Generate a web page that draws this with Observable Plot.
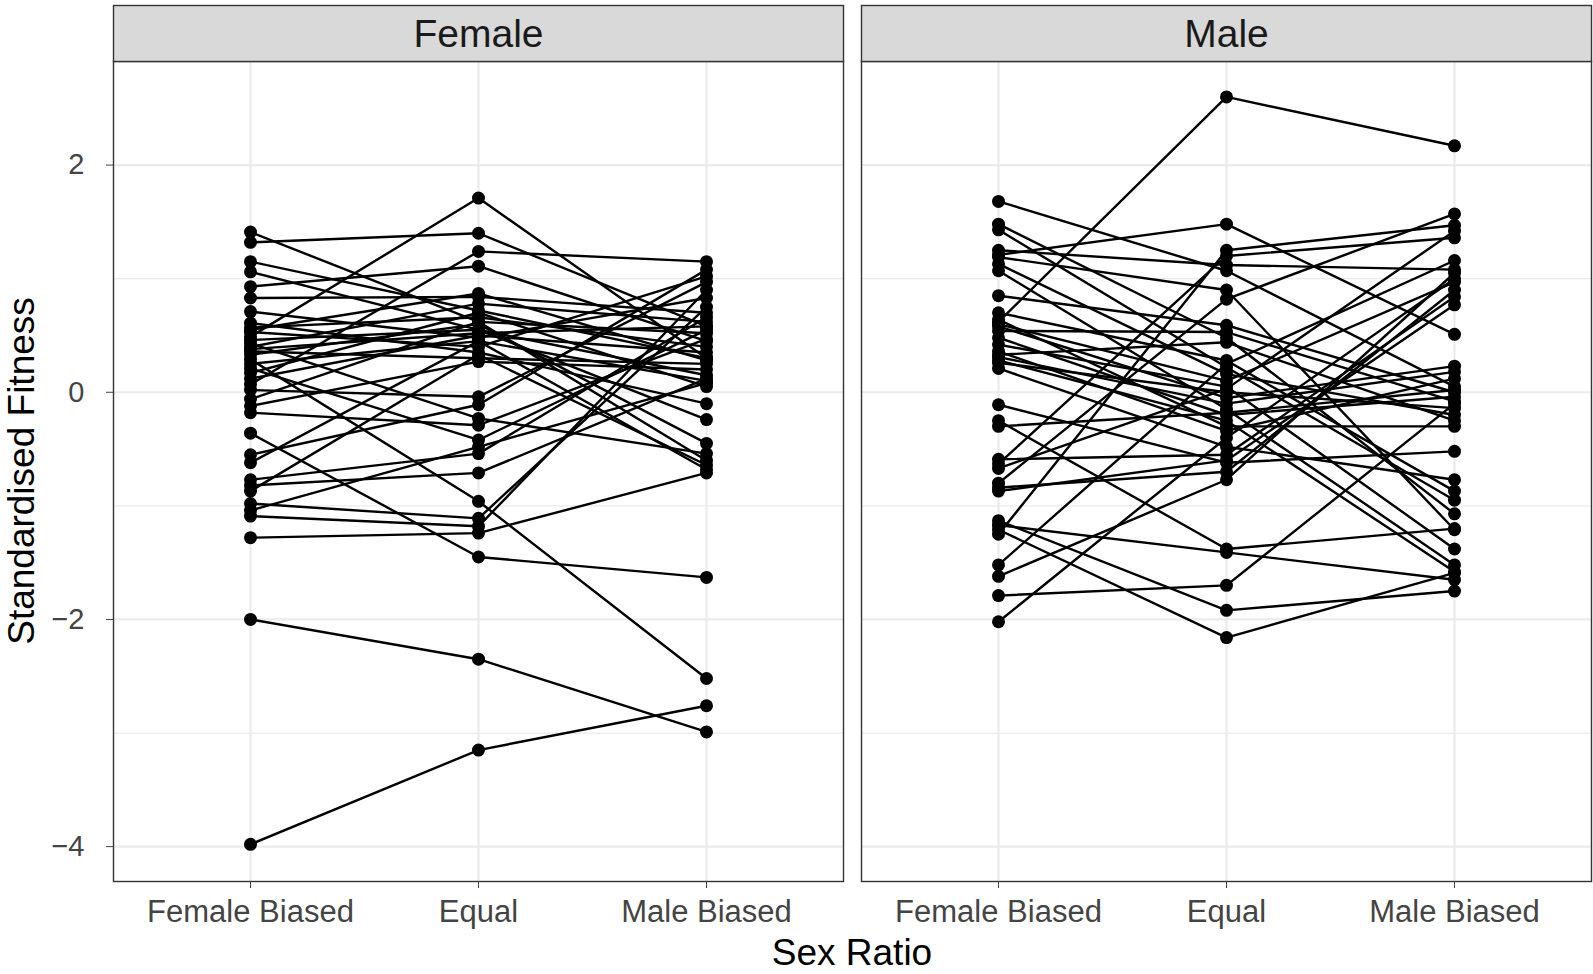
<!DOCTYPE html>
<html><head><meta charset="utf-8">
<script src="https://cdn.jsdelivr.net/npm/d3@7"></script>
<script src="https://cdn.jsdelivr.net/npm/@observablehq/plot@0.6"></script>
<style>
body{margin:0;background:#fff;}
svg{display:block;font-family:Arial,"Liberation Sans",sans-serif;}
</style>
</head><body><div id="chart"></div>
<script>
const sexes = ["Female", "Male"];
const ratios = ["Female Biased", "Equal", "Male Biased"];
const yTicks = [-4, -2, 0, 2];
const yMinor = [-3, -1, 1];
const xTitle = "Sex Ratio";
const yTitle = "Standardised Fitness";

// Female panel: one entry per line (Female Biased, Equal, Male Biased)
const femaleFB = [1.41, 1.32, 1.15, 1.06, 0.93, 0.83, 0.71, 0.61, 0.57, 0.53, 0.49, 0.46, 0.43, 0.40, 0.36, 0.33, 0.29, 0.25, 0.21, 0.17, 0.12, 0.07, 0.02, -0.06, -0.12, -0.18, -0.36, -0.55, -0.62, -0.77, -0.82, -0.87, -0.98, -1.04, -1.09, -1.28, -2.00, -3.98, 0.55, 0.38];
const femaleEQ = [0.62, 1.40, 0.72, 0.55, 1.11, 0.84, 0.48, 0.35, 0.66, 0.40, 1.71, 0.55, -0.23, 0.78, 0.30, 0.60, -0.96, 0.45, -0.42, 0.70, 0.50, 1.24, -0.04, 0.62, 0.27, -0.29, -1.45, -0.11, 0.45, -0.54, -0.71, 0.33, -1.11, -0.48, -1.18, -1.24, -2.35, -3.15, 0.87, 0.52];
const femaleMB = [0.52, 0.58, 0.30, -0.24, 0.45, 0.70, 0.83, -0.10, 0.40, 1.02, 0.30, 0.15, -0.54, 0.62, 0.25, -0.45, -2.52, 0.10, 0.55, 0.05, 0.35, 1.15, 0.97, -0.60, 0.20, 0.47, -1.63, 1.08, -0.68, 0.66, 0.12, -0.64, 0.75, 0.08, 0.90, -0.71, -2.99, -2.76, 0.28, 0.58];

// Male panel
const maleFB = [0.62, 1.68, 1.48, 1.43, 1.25, 1.21, 1.19, 1.13, 1.07, 0.85, 0.70, 0.64, 0.60, 0.58, 0.54, 0.48, 0.42, 0.36, 0.33, 0.31, 0.28, 0.26, 0.21, -0.11, -0.25, -0.30, -0.59, -0.63, -0.67, -0.80, -0.84, -0.87, -1.13, -1.17, -1.21, -1.25, -1.52, -1.62, -1.79, -2.02];
const maleEQ = [2.60, 1.07, 0.48, 0.22, 1.12, 1.48, 0.90, 0.16, -0.15, 0.59, 0.28, -0.30, 0.10, -0.05, 0.53, -0.20, 0.05, -0.34, 0.44, -0.10, -0.25, 0.00, -0.48, -0.62, -1.38, -0.18, -0.55, 1.20, 0.03, 0.82, -0.70, -0.60, -1.92, -1.41, -2.16, 1.25, 0.25, -0.77, -1.70, -0.40];
const maleMB = [2.17, 0.05, -1.07, -0.95, 1.08, 0.51, -1.21, -0.20, -1.52, 0.00, -0.87, -0.30, 0.97, 0.23, -0.08, -0.04, -1.38, 0.12, -0.25, 0.18, -1.58, -0.14, -0.77, -0.52, -1.20, 0.02, 0.84, 1.36, 1.42, 1.57, 0.90, 0.77, -1.75, -1.65, -1.59, 1.47, 1.16, 1.05, -0.10, 1.00];

const rows = [];
function addSeries(sex, fb, eq, mb) {
  fb.forEach((_, i) => {
    const id = sex + "-" + i;
    [fb[i], eq[i], mb[i]].forEach((v, j) => rows.push({sex, id, ratio: ratios[j], value: v}));
  });
}
addSeries("Female", femaleFB, femaleEQ, femaleMB);
addSeries("Male", maleFB, maleEQ, maleMB);

const fmt = d => (d < 0 ? "\u2212" + Math.abs(d) : String(d));

const W = 1593, H = 974;
const plot = Plot.plot({
  width: W, height: H,
  marginTop: 61, marginBottom: 93, marginLeft: 112, marginRight: 1,
  style: {fontFamily: 'Arial, "Liberation Sans", sans-serif', background: "#fff", overflow: "visible"},
  fx: {domain: sexes, paddingInner: 0.024, paddingOuter: 0, axis: null, label: null},
  x: {type: "point", domain: ratios, padding: 0.6, axis: null, label: null},
  y: {domain: [-4.307, 2.912], axis: null, label: null},
  marks: [
    Plot.gridY(yMinor, {stroke: "#ebebeb", strokeOpacity: 1, strokeWidth: 1.2}),
    Plot.gridY(yTicks, {stroke: "#ebebeb", strokeOpacity: 1, strokeWidth: 2.2}),
    Plot.gridX(ratios, {stroke: "#ebebeb", strokeOpacity: 1, strokeWidth: 2.2}),
    Plot.line(rows, {fx: "sex", x: "ratio", y: "value", z: "id", stroke: "black", strokeWidth: 2.4}),
    Plot.dot(rows, {fx: "sex", x: "ratio", y: "value", r: 6.5, fill: "black", stroke: "none"}),
    Plot.frame({stroke: "#333", strokeWidth: 1.4}),
    Plot.axisY(yTicks, {tickSize: 7, tickPadding: 22, fontSize: 29, label: null, color: "#444", tickFormat: fmt}),
    Plot.axisX({tickSize: 7, tickPadding: 11, fontSize: 31, label: null, color: "#444"})
  ]
});
document.getElementById("chart").append(plot);

// Facet strips (grey header boxes with the panel names), placed in root SVG coordinates
const svg = d3.select(plot);
const svgBox = plot.getBoundingClientRect();
const frames = Array.from(plot.querySelectorAll('g[aria-label="frame"] rect'))
  .map(r => r.getBoundingClientRect())
  .sort((a, b) => a.left - b.left);
frames.forEach((b, i) => {
  const x = b.left - svgBox.left, y = b.top - svgBox.top, w = b.width;
  svg.append("rect")
    .attr("x", x).attr("y", y - 56).attr("width", w).attr("height", 56)
    .attr("fill", "#d9d9d9").attr("stroke", "#333").attr("stroke-width", 1.4);
  svg.append("text")
    .attr("x", x + w / 2).attr("y", y - 28)
    .attr("text-anchor", "middle").attr("dominant-baseline", "central")
    .attr("font-size", 39).attr("fill", "#1a1a1a")
    .text(sexes[i]);
});

// Axis titles
svg.append("text")
  .attr("x", (112 + W - 1) / 2).attr("y", 965)
  .attr("text-anchor", "middle").attr("font-size", 37).attr("fill", "#000")
  .text(xTitle);
svg.append("text")
  .attr("transform", `translate(34,${(61 + 881) / 2}) rotate(-90)`)
  .attr("text-anchor", "middle").attr("font-size", 37).attr("fill", "#000")
  .text(yTitle);
</script>
</body></html>
